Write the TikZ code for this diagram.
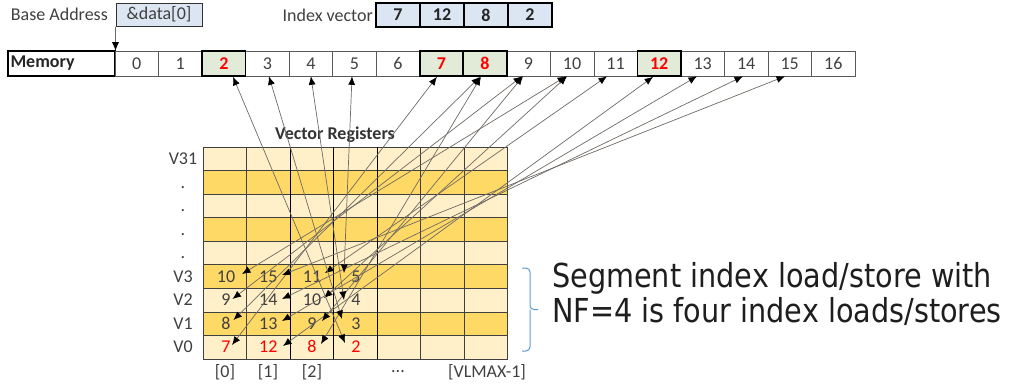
\documentclass[tikz,border=0pt]{standalone}
\usepackage{fontspec}
\setmainfont{Carlito}
\newfontfamily\tahoma{DejaVu Sans}
\usetikzlibrary{arrows.meta}
\definecolor{lightrow}{HTML}{FFF0C9}
\definecolor{darkrow}{HTML}{FFD966}
\definecolor{hlgreen}{HTML}{E2EBD8}
\definecolor{lblue}{HTML}{DCE6F2}
\definecolor{txtgray}{HTML}{404040}
\definecolor{arrowgray}{HTML}{6F6A64}
\definecolor{bracecol}{HTML}{5B9BD5}
\definecolor{bigtxt}{HTML}{1E1E1E}
\begin{document}
\begin{tikzpicture}[x=1pt,y=-1pt,
  font=\fontsize{18}{21}\selectfont,
  memcell/.style={draw=gray!70!black, line width=0.6pt, minimum width=43.53pt, minimum height=25pt, inner sep=0pt, text=txtgray},
  hlcell/.style={memcell, draw=black, line width=1.6pt, fill=hlgreen, text=red, font=\fontsize{18}{21}\selectfont\bfseries},
  idxbox/.style={draw=black, line width=1.6pt, fill=lblue, minimum width=44pt, minimum height=24pt, inner sep=0pt, text=black!85, font=\fontsize{18}{21}\selectfont\bfseries},
  lbl/.style={text=txtgray, inner sep=0pt},
  rowlbl/.style={text=txtgray, inner sep=0pt, text height=11.5pt, text depth=0pt},
  val/.style={text=txtgray, inner sep=0pt, text height=11.5pt, text depth=0pt},
  redval/.style={val, text=red},
  gridthin/.style={draw=black!75, line width=0.6pt},
  gridthick/.style={draw=black, line width=1.1pt},
  tipstyle/.tip={Latex[length=8.5pt,width=7pt,color=black]},
  conn/.style={draw=arrowgray, line width=0.7pt, tipstyle-tipstyle},
  conn1/.style={draw=arrowgray, line width=0.7pt, -tipstyle},
  bigtext/.style={anchor=base west, inner sep=0pt, text=bigtxt, font=\tahoma\fontsize{33}{36}\selectfont}
]
\useasboundingbox (0,0) rectangle (1010,386);

% top labels
\node[lbl, anchor=east] (balbl) at (108,14.5) {Base Address};
\node[draw=gray!40!black, line width=1pt, fill=lblue, minimum width=86pt, minimum height=23pt, inner sep=0pt, text=txtgray] (addr) at (159,14.5) {\&data[0]};
\node[lbl, anchor=east] (ivlbl) at (373,15) {Index vector};
\foreach \v [count=\i from 0] in {7,12,8,2}
  \node[idxbox] (iv\i) at ({376+44*\i+22},15) {\v};

% memory row
\node[draw=black, line width=1.3pt, minimum width=107pt, minimum height=25pt, inner sep=0pt, text width=102pt, align=left, text=black!85, font=\fontsize{18}{21}\selectfont\bfseries] (memlbl) at (61.5,63.5) {Memory};
\foreach \k in {0,1,3,4,5,6,9,10,11,13,14,15,16}
  \node[memcell] (m\k) at ({136.765+43.53*\k},63.5) {\k};
\foreach \k in {2,7,8,12}
  \node[hlcell] (m\k) at ({136.765+43.53*\k},63.5) {\k};

\draw[conn1] (addr.south west) -- (addr.south west |- m0.north);

% vector register grid
\node[font=\fontsize{18}{21}\selectfont\bfseries, text=black!80, inner sep=0pt] (vrlbl) at (335,135) {Vector Registers};
\foreach \r/\c in {0/lightrow,1/darkrow,2/lightrow,3/darkrow,4/lightrow,5/darkrow,6/lightrow,7/darkrow,8/lightrow}
  \fill[\c] (203,{147+23.55*\r}) rectangle (507.7,{147+23.55*(\r+1)});
\foreach \r in {0,...,9}
  \draw[gridthin] (203,{147+23.55*\r}) -- (507.7,{147+23.55*\r});
\foreach \k in {0,1,5,6,7}
  \draw[gridthin] ({203+43.53*\k},147) -- ({203+43.53*\k},358.95);
\foreach \k in {2,3,4}
  \draw[gridthick] ({203+43.53*\k},147) -- ({203+43.53*\k},358.95);

\foreach \t [count=\r from 0] in {V31,.,.,.,.,V3,V2,V1,V0}
  \node[rowlbl] (rl\r) at (183,{158.8+23.55*\r}) {\t};

\node[lbl] (cl0) at (225,372) {[0]};
\node[lbl] (cl1) at (268,372) {[1]};
\node[lbl] (cl2) at (312,372) {[2]};
\node[lbl] (cl3) at (398,372) {...};
\node[lbl] (cl4) at (487,372) {[VLMAX-1]};

% values: val<col><row>
\foreach \c/\x in {0/226,1/268.3,2/312,3/356}{
  \foreach \r in {5,6,7}
    \coordinate (cc\c\r) at (\x,{158.8+23.55*\r});
  \coordinate (cc\c8) at (\x,{158.8+23.55*8});
}
\node[val] (val05) at (cc05) {10};
\node[val] (val06) at (cc06) {9};
\node[val] (val07) at (cc07) {8};
\node[redval] (val08) at (cc08) {7};
\node[val] (val15) at (cc15) {15};
\node[val] (val16) at (cc16) {14};
\node[val] (val17) at (cc17) {13};
\node[redval] (val18) at (cc18) {12};
\node[val] (val25) at (cc25) {11};
\node[val] (val26) at (cc26) {10};
\node[val] (val27) at (cc27) {9};
\node[redval] (val28) at (cc28) {8};
\node[val] (val35) at (cc35) {5};
\node[val] (val36) at (cc36) {4};
\node[val] (val37) at (cc37) {3};
\node[redval] (val38) at (cc38) {2};

% connectors memory <-> register elements
\draw[conn] ([xshift=-4.5pt]m7.south)  -- ([shift={(6,-2.2)}]val08.center);
\draw[conn] ([xshift=-5pt]m8.south)    -- ([shift={(7.5,-3.6)}]val07.center);
\draw[conn] ([xshift=-6.5pt]m9.south)  -- ([shift={(6.5,-1.1)}]val06.center);
\draw[conn] ([xshift=-6pt]m10.south)   -- ([shift={(16,-2.5)}]val05.center);
\draw[conn] ([xshift=-6pt]m12.south)   -- ([shift={(14.7,-1.2)}]val18.center);
\draw[conn] ([xshift=-5.7pt]m13.south) -- ([shift={(13.7,-2.6)}]val17.center);
\draw[conn] ([xshift=-3.2pt]m14.south) -- ([shift={(13.7,-1.1)}]val16.center);
\draw[conn] ([xshift=-4.7pt]m15.south) -- ([shift={(13.7,-1.5)}]val15.center);
\draw[conn] ([xshift=-4pt]m8.south)    -- ([shift={(9,-3.2)}]val28.center);
\draw[conn] ([xshift=-5.5pt]m9.south)  -- ([shift={(10,-2.6)}]val27.center);
\draw[conn] ([xshift=-5pt]m10.south)   -- ([shift={(12,-2.1)}]val26.center);
\draw[conn] ([xshift=-8.6pt]m11.south) -- ([shift={(13,-3.5)}]val25.center);
\draw[conn] ([xshift=9.2pt]m2.south)   -- ([shift={(-11,-4.2)}]val38.center);
\draw[conn] ([xshift=1.6pt]m3.south)   -- ([shift={(-14,-4.6)}]val37.center);
\draw[conn] ([xshift=0pt]m4.south)     -- ([shift={(-12,-0.1)}]val36.center);
\draw[conn] ([xshift=-2.4pt]m5.south)  -- ([shift={(-12,-3.5)}]val35.center);

% brace and text
\draw[bracecol, line width=1pt, rounded corners=4pt] (522,268) -| (530,309.5) -- (538,309.5);
\draw[bracecol, line width=1pt, rounded corners=4pt] (522,351) -| (530,309.5);
\node[bigtext] (seg1) at (552,287) {\scalebox{0.87}[1]{Segment index load/store with}};
\node[bigtext] (seg2) at (552,322) {\scalebox{0.87}[1]{NF=4 is four index loads/stores}};
\end{tikzpicture}
\end{document}
